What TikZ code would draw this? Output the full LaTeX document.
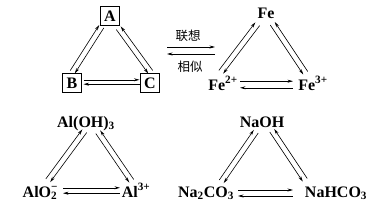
\documentclass[tikz,border=0pt]{standalone}
\usepackage{fontspec}
\setmainfont{Liberation Serif}
\newfontfamily\cjk{Noto Sans CJK SC}
\usetikzlibrary{arrows.meta,calc}
\newcommand\duo[5]{%
  \draw[link,#4] ($(#1)!#3!90:(#2)$) -- ($(#2)!#3!-90:(#1)$);
  \draw[link,#5] ($(#1)!#3!-90:(#2)$) -- ($(#2)!#3!90:(#1)$);}
\newcommand\chg[2]{#1\rlap{\textsuperscript{#2}}}
\begin{document}
\begin{tikzpicture}[x=1pt,y=-1pt,
  >={Stealth[length=5.5pt,width=3pt]},
  link/.style={line width=0.6pt},
  lbl/.style={font=\fontsize{16}{16}\selectfont\bfseries, inner sep=0pt, anchor=base},
  boxn/.style={draw, line width=0.8pt, minimum size=19.5pt, inner sep=0pt, font=\fontsize{16}{16}\selectfont\bfseries},
  zh/.style={font=\fontsize{12.5}{12.5}\selectfont\cjk, inner sep=0pt}]
\useasboundingbox (0,0) rectangle (383,209);
% box triangle
\node[boxn] (A) at (110,16) {A};
\node[boxn] (B) at (72,83) {B};
\node[boxn] (C) at (150,83) {C};
\coordinate (ba1) at ($(B)+(0.5,-11)$);
\coordinate (ba2) at ($(A)+(-8.5,10.5)$);
\coordinate (ac1) at ($(A)+(8.5,12)$);
\coordinate (ac2) at ($(C)+(0.5,-11)$);
\coordinate (bc1) at ($(B)+(11.5,-1)$);
\coordinate (bc2) at ($(C)+(-10.5,-1)$);
\duo{ba1}{ba2}{2.7pt}{->}{<-}
\duo{ac1}{ac2}{2.7pt}{<-}{->}
\duo{bc1}{bc2}{2.2pt}{->}{<-}
% middle
\node[zh] (lx) at (188,36) {联想};
\node[zh] (xs) at (190,67) {相似};
\coordinate (m1) at ($(lx)+(-21,11)$);
\coordinate (m2) at ($(lx)+(27,11)$);
\coordinate (m3) at ($(xs)+(25,-13)$);
\coordinate (m4) at ($(xs)+(-23,-13)$);
\draw[link,->] (m1) -- (m2);
\draw[link,->] (m3) -- (m4);
% Fe triangle
\node[lbl] (Fe) at (266,18) {Fe};
\node[lbl] (Fe2) at (223,90) {Fe\textsuperscript{2+}};
\node[lbl] (Fe3) at (313,90) {Fe\textsuperscript{3+}};
\coordinate (fl1) at ($(Fe2.base)+(-2,-18)$);
\coordinate (fl2) at ($(Fe.base)+(-8.5,6)$);
\coordinate (fr1) at ($(Fe.base)+(6.5,5.5)$);
\coordinate (fr2) at ($(Fe3.base)+(-7.5,-17)$);
\coordinate (fb1) at ($(Fe2.base)+(17,-5.5)$);
\coordinate (fb2) at ($(Fe3.base)+(-20,-5.5)$);
\duo{fl1}{fl2}{2.7pt}{->}{<-}
\duo{fr1}{fr2}{2.7pt}{<-}{->}
\duo{fb1}{fb2}{3.3pt}{->}{<-}
% Al triangle
\node[lbl] (AlOH) at (86,127) {Al(OH)\textsubscript{3}};
\node[lbl] (AlO) at (40,197) {AlO\chg{}{−}\textsubscript{2}};
\node[lbl] (Al3) at (136,197) {Al\textsuperscript{3+}};
\coordinate (al1) at ($(AlO.base)+(8,-16.5)$);
\coordinate (al2) at ($(AlOH.base)+(-1.5,4)$);
\coordinate (ar1) at ($(AlOH.base)+(12,5)$);
\coordinate (ar2) at ($(Al3.base)+(-4.5,-16)$);
\coordinate (ab1) at ($(AlO.base)+(23,-6.5)$);
\coordinate (ab2) at ($(Al3.base)+(-16,-6.5)$);
\duo{al1}{al2}{2.7pt}{->}{<-}
\duo{ar1}{ar2}{2.7pt}{<-}{->}
\duo{ab1}{ab2}{2.7pt}{->}{<-}
% Na triangle
\node[lbl] (NaOH) at (262,127) {NaOH};
\node[lbl] (NaCO) at (206,197) {Na\textsubscript{2}CO\textsubscript{3}};
\node[lbl] (NaHCO) at (336,197) {NaHCO\textsubscript{3}};
\coordinate (nl1) at ($(NaCO.base)+(15.5,-15.5)$);
\coordinate (nl2) at ($(NaOH.base)+(-6,4.5)$);
\coordinate (nr1) at ($(NaOH.base)+(10,3.5)$);
\coordinate (nr2) at ($(NaHCO.base)+(-31,-17)$);
\coordinate (nb1) at ($(NaCO.base)+(32,-4)$);
\coordinate (nb2) at ($(NaHCO.base)+(-43,-4)$);
\duo{nl1}{nl2}{2.7pt}{->}{<-}
\duo{nr1}{nr2}{2.7pt}{<-}{->}
\duo{nb1}{nb2}{3pt}{->}{<-}
\end{tikzpicture}
\end{document}
